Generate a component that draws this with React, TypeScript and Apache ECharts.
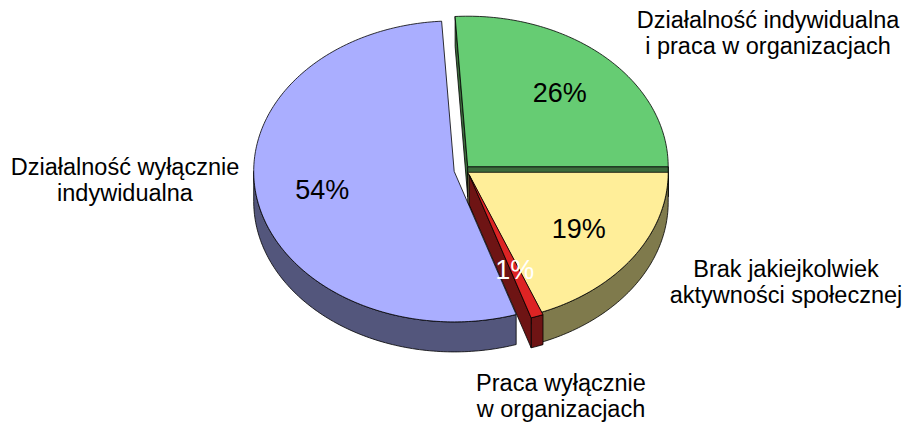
import React, { useEffect, useRef } from 'react';
import * as echarts from 'echarts';

const categories = [
  'Działalność indywidualna\ni praca w organizacjach',
  'Brak jakiejkolwiek\naktywności społecznej',
  'Praca wyłącznie\nw organizacjach',
  'Działalność wyłącznie\nindywidualna',
];
const values = [26, 19, 1, 54];

const topColors = ['#66CC73', '#FFEE99', '#DD2424', '#AAAEFF'];
const sideColors = ['#3C6B3C', '#7F7A4C', '#6E1414', '#53567C'];
const pctColors = ['#000', '#000', '#fff', '#000'];
const offsets = [[0, 0], [0, 5.6], [1.5, 8], [-13.5, 4.7]];
const labelPos = [[768, 33], [786, 282], [561, 396], [125, 180]];

const START = 93.6;
const CX = 467.7, CY = 166.7, RX = 200.5, RY = 150.5, DEPTH = 30;
const FONT = '"Liberation Sans", Arial, sans-serif';

const total = values.reduce((a, b) => a + b, 0);
const angles: [number, number][] = [];
{
  let acc = START;
  values.forEach((v) => {
    const a0 = acc;
    const a1 = acc - (v / total) * 360;
    angles.push([a0, a1]);
    acc = a1;
  });
}

const rad = (d: number) => (d * Math.PI) / 180;
function pt(i: number, deg: number, r: number, h: number): number[] {
  const t = rad(deg);
  return [CX + offsets[i][0] + r * RX * Math.cos(t), CY + offsets[i][1] - r * RY * Math.sin(t) + h];
}

function renderItem(params: any, api: any) {
  const i = params.dataIndex;
  const v = api.value(0);
  const [a0, a1] = angles[i];
  const children: any[] = [];
  const stroke = { stroke: '#000', lineWidth: 0.8, lineJoin: 'round' };

  // outer wall (front part only)
  for (let k = -2; k <= 2; k++) {
    const lo = Math.max(a1, 180 + 360 * k);
    const hi = Math.min(a0, 360 + 360 * k);
    if (hi > lo) {
      const n = Math.max(2, Math.ceil(hi - lo));
      const pts: number[][] = [];
      for (let s = 0; s <= n; s++) pts.push(pt(i, hi - ((hi - lo) * s) / n, 1, 0));
      for (let s = n; s >= 0; s--) pts.push(pt(i, hi - ((hi - lo) * s) / n, 1, DEPTH));
      const maxY = Math.max(...pts.map((p) => p[1]));
      children.push({
        type: 'polygon', z2: 10 + maxY / 100,
        shape: { points: pts },
        style: { fill: sideColors[i], ...stroke },
      });
    }
  }
  // radial walls
  const radial = (phi: number) => {
    const c0 = pt(i, phi, 0, 0), e0 = pt(i, phi, 1, 0), e1 = pt(i, phi, 1, DEPTH), c1 = pt(i, phi, 0, DEPTH);
    children.push({
      type: 'polygon', z2: 10 + Math.max(e1[1], c1[1]) / 100,
      shape: { points: [c0, e0, e1, c1] },
      style: { fill: sideColors[i], ...stroke },
    });
  };
  if (Math.cos(rad(a0)) < 0) radial(a0);
  if (Math.cos(rad(a1)) > 0) radial(a1);

  // top face
  const n = Math.max(2, Math.ceil(a0 - a1));
  const top: number[][] = [pt(i, 0, 0, 0)];
  for (let s = 0; s <= n; s++) top.push(pt(i, a0 - ((a0 - a1) * s) / n, 1, 0));
  children.push({
    type: 'polygon', z2: 100,
    shape: { points: top },
    style: { fill: topColors[i], ...stroke },
  });

  // percent label
  const lp = pt(i, (a0 + a1) / 2, 0.67, 0);
  children.push({
    type: 'text', z2: 200, x: lp[0], y: lp[1],
    style: {
      text: Math.round(v) + '%', fill: pctColors[i], font: '27px ' + FONT,
      align: 'center', verticalAlign: 'middle',
    },
  });
  return { type: 'group', children };
}

export default function App() {
  const ref = useRef<HTMLDivElement>(null);
  useEffect(() => {
    if (!ref.current) return;
    const chart = echarts.init(ref.current, undefined, { renderer: 'svg' });
    chart.setOption({
      animation: false,
      backgroundColor: '#fff',
      series: [
        {
          type: 'custom',
          coordinateSystem: 'none',
          renderItem,
          data: values.map((v, i) => ({ name: categories[i], value: [v] })),
          silent: true,
        },
      ],
      graphic: categories.map((c, i) => ({
        type: 'text',
        x: labelPos[i][0],
        y: labelPos[i][1],
        style: {
          text: c, font: '23.5px ' + FONT, fill: '#000',
          align: 'center', verticalAlign: 'middle', lineHeight: 26,
        },
      })),
    });
    return () => chart.dispose();
  }, []);
  return <div ref={ref} style={{ position: 'fixed', left: 0, top: 0, width: 905, height: 425 }} />;
}
